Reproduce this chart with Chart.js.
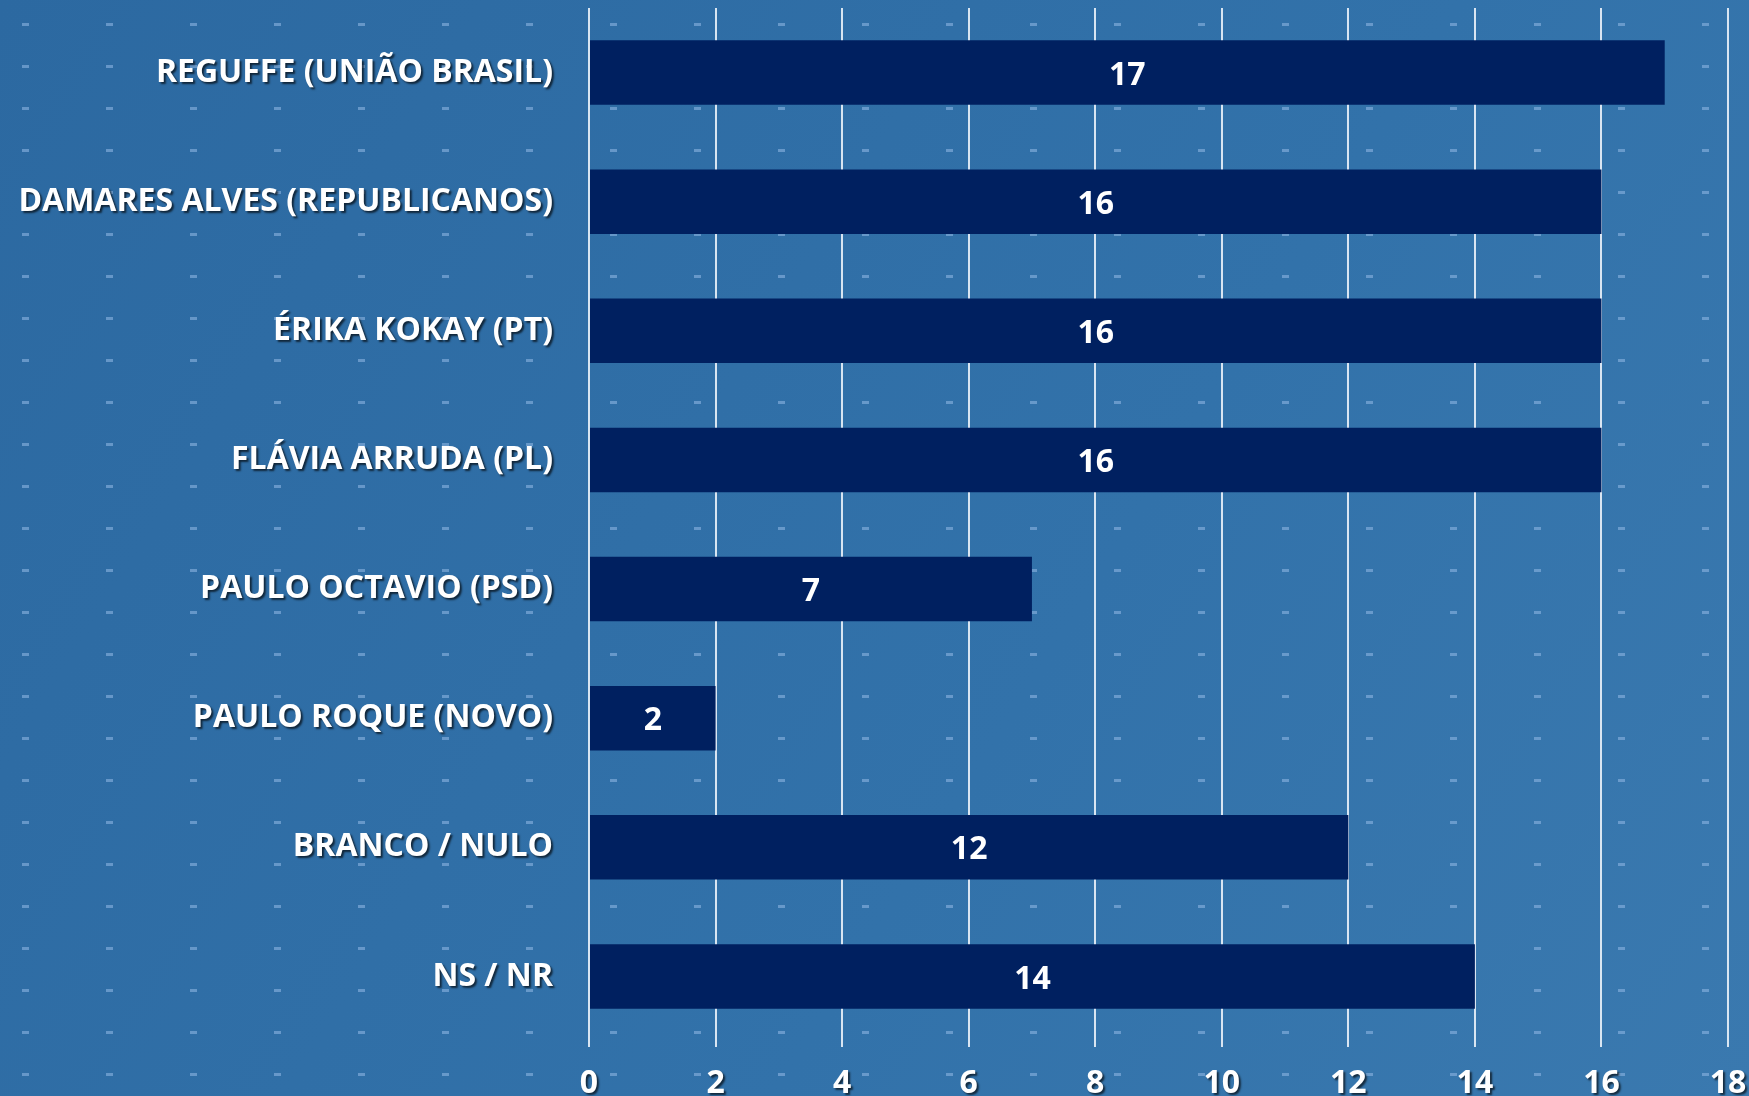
<!DOCTYPE html>
<html lang="pt-BR">
<head>
    <meta charset="UTF-8">
    <title>Intenção de voto</title>
    <script src="https://cdn.jsdelivr.net/npm/chart.js"></script>
    <style>
        html, body { margin: 0; padding: 0; background: #2E6CA4; overflow: hidden; }
        .chart-container { position: relative; width: 1749px; height: 1096px; }
    </style>
</head>
<body>
    <div class="chart-container">
        <canvas id="votoChart"></canvas>
    </div>

    <script>
        // dados
        const candidatos = [
            'REGUFFE (UNIÃO BRASIL)',
            'DAMARES ALVES (REPUBLICANOS)',
            'ÉRIKA KOKAY (PT)',
            'FLÁVIA ARRUDA (PL)',
            'PAULO OCTAVIO (PSD)',
            'PAULO ROQUE (NOVO)',
            'BRANCO / NULO',
            'NS / NR'
        ];
        const percentuais = [17, 16, 16, 16, 7, 2, 12, 14];
        const eixoMin = 0;
        const eixoMax = 18;
        const eixoPasso = 2;

        const fonte = "'Open Sans', 'Lato', sans-serif";

        // fundo azul com pontinhos
        const fundoPlugin = {
            id: 'fundo',
            beforeDraw(chart) {
                const ctx = chart.ctx;
                const w = chart.width, h = chart.height;
                ctx.save();
                const g = ctx.createLinearGradient(0, 0, w, h);
                g.addColorStop(0, '#2C69A1');
                g.addColorStop(0.6, '#3272AA');
                g.addColorStop(1, '#3A79AF');
                ctx.fillStyle = g;
                ctx.fillRect(0, 0, w, h);
                ctx.fillStyle = 'rgba(140, 180, 225, 0.6)';
                for (let y = 24; y < h; y += 42) {
                    for (let x = 25; x < w; x += 84) {
                        ctx.fillRect(x - 3, y - 1, 7, 3);
                    }
                }
                ctx.restore();

                // sombra nos rótulos dos eixos
                ['x', 'y'].forEach(id => {
                    const s = chart.scales[id];
                    if (s && !s._sombra) {
                        const orig = s.drawLabels;
                        s.drawLabels = function (area) {
                            const c = this.ctx;
                            c.save();
                            c.shadowColor = 'rgba(0, 0, 0, 0.65)';
                            c.shadowOffsetX = 2;
                            c.shadowOffsetY = 2;
                            c.shadowBlur = 2;
                            orig.call(this, area);
                            c.restore();
                        };
                        s._sombra = true;
                    }
                });
            }
        };

        // valores no meio das barras
        const rotulosPlugin = {
            id: 'rotulos',
            afterDatasetsDraw(chart) {
                const ctx = chart.ctx;
                const meta = chart.getDatasetMeta(0);
                ctx.save();
                ctx.font = 'bold 32px ' + fonte;
                ctx.fillStyle = '#FFFFFF';
                ctx.textAlign = 'center';
                ctx.textBaseline = 'middle';
                meta.data.forEach((bar, i) => {
                    const x = (bar.x + bar.base) / 2;
                    ctx.fillText(String(chart.data.datasets[0].data[i]), x, bar.y + 3);
                });
                ctx.restore();
            }
        };

        const ctx = document.getElementById('votoChart').getContext('2d');
        new Chart(ctx, {
            type: 'bar',
            data: {
                labels: candidatos,
                datasets: [{
                    data: percentuais,
                    backgroundColor: '#002060',
                    borderWidth: 0,
                    barPercentage: 0.5,
                    categoryPercentage: 1.0
                }]
            },
            options: {
                indexAxis: 'y',
                responsive: true,
                maintainAspectRatio: false,
                animation: false,
                devicePixelRatio: 1,
                layout: { padding: { top: 8, right: 21, left: 0, bottom: 0 } },
                scales: {
                    x: {
                        min: eixoMin,
                        max: eixoMax,
                        ticks: {
                            stepSize: eixoPasso,
                            color: '#FFFFFF',
                            font: { family: fonte, size: 32, weight: 'bold' },
                            padding: 18,
                            maxRotation: 0
                        },
                        grid: {
                            color: 'rgba(235, 242, 250, 0.9)',
                            lineWidth: 2,
                            tickLength: 6
                        },
                        border: { display: false },
                        afterFit(scale) {
                            scale.height = 55;
                            scale.paddingLeft = 0;
                            scale.paddingRight = 0;
                        }
                    },
                    y: {
                        ticks: {
                            color: '#FFFFFF',
                            font: { family: fonte, size: 32, weight: 'bold' },
                            padding: 36
                        },
                        grid: { display: false, drawTicks: false },
                        border: { display: false },
                        afterFit(scale) {
                            scale.width = 589;
                            scale.paddingTop = 0;
                            scale.paddingBottom = 0;
                        }
                    }
                },
                plugins: {
                    legend: { display: false },
                    tooltip: { enabled: false }
                }
            },
            plugins: [fundoPlugin, rotulosPlugin]
        });
    </script>
</body>
</html>
